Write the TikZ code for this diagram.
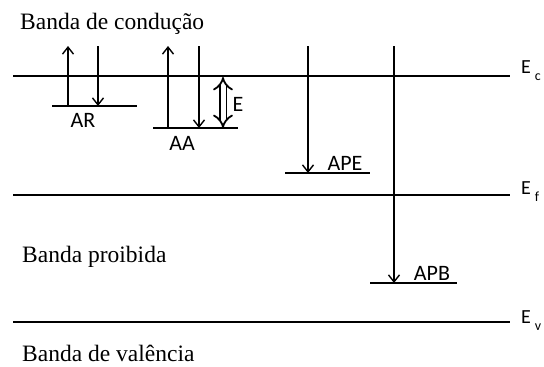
\documentclass[tikz,border=0pt]{standalone}
\usepackage{fontspec}
\setmainfont{Liberation Serif}
\newfontfamily\labelfont{Carlito}
\usetikzlibrary{arrows.meta}

\begin{document}
\begin{tikzpicture}[
    x=1pt, y=-1pt,
    band/.style={line width=1.5pt},
    arrow/.style={-{Straight Barb[length=7pt,width=11pt]}, line width=1.4pt},
    gap/.style={{Implies[scale=1.1]}-{Implies[scale=1.1]}, double, double distance=5pt, line width=1.8pt},
    bandtext/.style={anchor=west, inner sep=0pt, font=\fontsize{23.5}{26}\selectfont},
    tag/.style={inner sep=0pt, font=\labelfont\fontsize{22}{24}\selectfont},
    sub/.style={anchor=west, inner sep=0pt, font=\labelfont\fontsize{20}{22}\selectfont}
]
\useasboundingbox (0,0) rectangle (544,367);

% band edges
\coordinate (ecL) at (13,76);  \coordinate (ecR) at (510,76);
\coordinate (efL) at (13,195); \coordinate (efR) at (510,195);
\coordinate (evL) at (13,322); \coordinate (evR) at (510,322);
\draw[band] (ecL) -- (ecR);
\draw[band] (efL) -- (efR);
\draw[band] (evL) -- (evR);

\node[sub] (ec) at (521,71) {E\hspace{4pt}\raisebox{-7pt}{\fontsize{14}{14}\selectfont c}};
\node[sub] (ef) at (521,192) {E\hspace{4pt}\raisebox{-7pt}{\fontsize{14}{14}\selectfont f}};
\node[sub] (ev) at (521,321) {E\hspace{4pt}\raisebox{-7pt}{\fontsize{14}{14}\selectfont v}};

\node[bandtext] (conducao) at (20,24) {Banda de condução};
\node[bandtext] (proibida) at (22,257) {Banda proibida};
\node[bandtext] (valencia) at (22,353) {Banda de valência};

% impurity levels
\coordinate (arL) at (52,106);  \coordinate (arR) at (137,106);
\coordinate (aaL) at (153,128); \coordinate (aaR) at (238,128);
\coordinate (apeL) at (285,173); \coordinate (apeR) at (370,173);
\coordinate (apbL) at (370,283); \coordinate (apbR) at (457,283);
\draw[band] (arL) -- (arR);
\draw[band] (aaL) -- (aaR);
\draw[band] (apeL) -- (apeR);
\draw[band] (apbL) -- (apbR);

% transitions
\coordinate (arUp) at (68,46);   \coordinate (arDn) at (98,46);
\coordinate (aaUp) at (168,46);  \coordinate (aaDn) at (199,46);
\coordinate (apeDn) at (308,46); \coordinate (apbDn) at (394,46);
\draw[arrow] (arUp |- arL) -- (arUp);
\draw[arrow] (arDn) -- (arDn |- arL);
\draw[arrow] (aaUp |- aaL) -- (aaUp);
\draw[arrow] (aaDn) -- (aaDn |- aaL);
\draw[arrow] (apeDn) -- (apeDn |- apeL);
\draw[arrow] (apbDn) -- (apbDn |- apbL);

\coordinate (gapTop) at (223,77); \coordinate (gapBot) at (223,128);
\draw[gap] (gapTop) -- (gapBot);

\node[tag] (ar) at (83,120) {AR};
\node[tag] (aa) at (182,143) {AA};
\node[tag] (e) at (238,104) {E};
\node[tag] (ape) at (345,163) {APE};
\node[tag] (apb) at (432,273) {APB};

\end{tikzpicture}
\end{document}
